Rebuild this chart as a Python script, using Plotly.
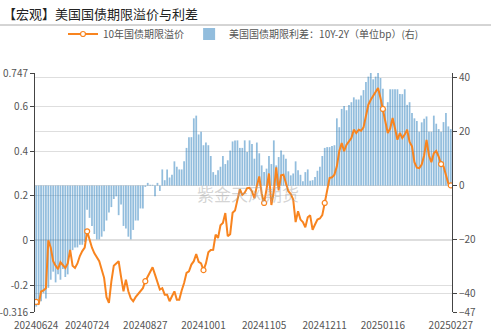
import pandas as pd
import plotly.graph_objects as go

# ---------------- data ----------------
holidays = ["2024-07-04", "2024-09-02", "2024-11-28", "2024-12-25",
            "2025-01-01", "2025-01-20", "2025-02-17"]
dates = [d.strftime("%Y%m%d") for d in pd.bdate_range("2024-06-24", "2025-02-27")
         if d.strftime("%Y-%m-%d") not in holidays]

tick_labels = ["20240624", "20240724", "20240827", "20241001",
               "20241105", "20241211", "20250116", "20250227"]

# 10-year term premium (left axis)
term_premium = [
    -0.271, -0.283, -0.225, -0.22, -0.21, 0.003, -0.03, -0.09, -0.11, -0.125,
    -0.095, -0.11, -0.12, -0.1, -0.04, -0.11, -0.12, -0.1, -0.067, -0.045,
    -0.03, 0.043, 0.0, -0.03, -0.055, -0.075, -0.09, -0.127, -0.164, -0.25,
    -0.275, -0.18, -0.11, -0.1, -0.09, -0.16, -0.224, -0.172, -0.224, -0.255,
    -0.268, -0.25, -0.235, -0.224, -0.21, -0.179, -0.16, -0.14, -0.117, -0.15,
    -0.185, -0.216, -0.21, -0.239, -0.239, -0.268, -0.246, -0.224, -0.261, -0.261,
    -0.22, -0.187, -0.142, -0.135, -0.105, -0.09, -0.058, -0.093, -0.1, -0.13,
    -0.1, -0.05, -0.04, -0.039, 0.028, 0.013, 0.07, 0.08, 0.124, 0.021,
    0.03, 0.125, 0.135, 0.19, 0.23, 0.205, 0.215, 0.235, 0.236, 0.22,
    0.19, 0.245, 0.287, 0.21, 0.169, 0.23, 0.3, 0.16, 0.22, 0.327,
    0.225, 0.292, 0.295, 0.258, 0.221, 0.209, 0.184, 0.084, 0.132, 0.095,
    0.084, 0.061, 0.105, 0.114, 0.05, 0.073, 0.095, 0.1, 0.115, 0.169,
    0.221, 0.28, 0.283, 0.295, 0.332, 0.399, 0.436, 0.399, 0.428, 0.443,
    0.458, 0.495, 0.48, 0.495, 0.49, 0.505, 0.55, 0.606, 0.628, 0.645,
    0.66, 0.68, 0.636, 0.587, 0.53, 0.48, 0.5, 0.547, 0.5, 0.45,
    0.48, 0.458, 0.473, 0.495, 0.44, 0.421, 0.35, 0.326, 0.324, 0.34,
    0.38, 0.45, 0.38, 0.35, 0.39, 0.4, 0.375, 0.342, 0.332, 0.29,
    0.255, 0.247,
]

# 10Y-2Y spread in bp (right axis)
spread_bp = [
    -45, -44, -43, -40, -42, -38, -35, -32, -36, -33,
    -35, -31, -34, -33, -25, -24, -23, -23, -22, -22,
    -21, -9, -12, -15, -18, -20, -20, -19, -17, -13,
    -10, -8, -5, -4, -11, -7, -15, -16, -19, -20,
    -16.5, -13, -13, -8.5, -8.5, -0.5, 1, 0.3, 0.3, -4,
    1, -2, 6, 2, 6, 3, 4, 9, 7, 6,
    6, 9, 14, 18, 18, 25, 26, 19, 20, 15,
    16, 15, 11, 5, 4, 5.7, 7, 11, 8, 9.4,
    13, 16.4, 16.8, 16.8, 14, 14, 16.8, 12.5, 16.8, 15.5,
    10, 16, 12, 7.5, 5, 6.3, 11, 8, 16.8, 7.5,
    10.6, 13, 11.5, 10, 5.3, 3.8, 4.5, 9, 5.7, 4,
    1.6, 5, 6, 1.8, 2, 3.2, 5.5, 7, 11, 14,
    14.3, 14.3, 14.7, 15, 25, 21.7, 28.5, 29.6, 28, 30,
    31, 32.8, 32, 32, 33.5, 35.5, 38.5, 40.5, 42, 39.5,
    40.5, 42, 40, 36, 28.5, 31, 35.8, 35.8, 35.8, 35.8,
    34, 34, 35.8, 30, 31, 27, 25, 24, 20, 23.5,
    24.8, 25.7, 20, 20, 26, 23, 21, 20, 23.6, 27,
    22, 21,
]

marker_idx = [0, 21, 45, 69, 94, 119, 143, 167, 171]
axis_tick_idx = [21, 45, 69, 94, 119, 143, 167]

left_ticks = [-0.316, -0.2, 0, 0.2, 0.4, 0.6, 0.747]
left_ticktext = ["-0.316", "-0.2", "0", "0.2", "0.4", "0.6", "0.747"]
right_ticks = [-47, -40, -20, 0, 20, 40]

# ---------------- figure ----------------
FONT = "Noto Sans CJK SC"
ORANGE = "#F8841F"
W, H = 491, 333
ML, MR, MT, MB = 35, 39, 73, 21
PW, PH = W - ML - MR, H - MT - MB
LMIN, LMAX = -0.316, 0.747
RMIN, RMAX = -47, 41.85

fig = go.Figure()

fig.add_trace(go.Bar(
    x=dates, y=spread_bp, name="美国国债期限利差：10Y-2Y（单位bp）(右)",
    marker=dict(color="rgba(38,124,187,0.5)", line=dict(width=0)),
    xaxis="x", yaxis="y", legendrank=2,
))

fig.add_trace(go.Scatter(
    x=dates, y=term_premium, name="10年国债期限溢价", mode="lines+markers",
    line=dict(color=ORANGE, width=2),
    marker=dict(size=5, color="white", symbol="circle",
                line=dict(color=ORANGE, width=1.2)),
    selectedpoints=marker_idx,
    unselected=dict(marker=dict(opacity=0)),
    xaxis="x", yaxis="y2", legendrank=1,
))

zero_pos = (0 - LMIN) / (LMAX - LMIN)

fig.update_layout(
    width=W, height=H,
    margin=dict(l=ML, r=MR, t=MT, b=MB, pad=0),
    paper_bgcolor="white", plot_bgcolor="white",
    font=dict(family=FONT, size=10, color="#555"),
    title=dict(text="【宏观】美国国债期限溢价与利差", x=0.006, xref="container",
               xanchor="left", y=1 - 14 / H, yref="container", yanchor="middle",
               font=dict(family=FONT, size=13, color="#222")),
    showlegend=True,
    legend=dict(orientation="h", x=0.5, xanchor="center", xref="paper",
                y=1 - 34 / H, yref="container", yanchor="middle",
                font=dict(family=FONT, size=10, color="#555"),
                itemwidth=30, bgcolor="rgba(0,0,0,0)"),
    bargap=0.28,
    xaxis=dict(type="category", range=[-0.5, len(dates) - 0.5],
               tickmode="array", tickvals=tick_labels, ticktext=tick_labels,
               showline=False, ticks="outside", ticklen=4,
               tickcolor="rgba(0,0,0,0)", showgrid=False, zeroline=False,
               tickfont=dict(size=10, color="#555"), automargin=False),
    xaxis2=dict(type="linear", overlaying="x", anchor="free", position=zero_pos,
                range=[-0.5, len(dates) - 0.5], tickmode="array",
                tickvals=axis_tick_idx, showticklabels=False,
                showline=True, linecolor="#666", linewidth=1,
                ticks="outside", ticklen=4, tickcolor="#666",
                showgrid=False, zeroline=False),
    yaxis=dict(range=[RMIN, RMAX], side="right", tickmode="array",
               tickvals=right_ticks, showline=True, linecolor="#444",
               ticks="outside", ticklen=4, tickcolor="#444",
               showgrid=True, gridcolor="#dedede", zeroline=False,
               tickfont=dict(size=10, color="#555"), automargin=False),
    yaxis2=dict(range=[LMIN, LMAX], side="left", overlaying="y", anchor="x",
                tickmode="array", tickvals=left_ticks, ticktext=left_ticktext,
                showline=True, linecolor="#444", ticks="outside", ticklen=4,
                tickcolor="#444", showgrid=True, gridcolor="#dedede",
                zeroline=False, tickfont=dict(size=10, color="#555"),
                automargin=False),
    shapes=[dict(type="line", xref="paper", yref="paper",
                 x0=-ML / PW, x1=(W - ML) / PW,
                 y0=(H - MB - 25) / PH, y1=(H - MB - 25) / PH,
                 line=dict(color="#aaaaaa", width=1))],
    annotations=[dict(text="紫金天风期货", xref="paper", yref="paper",
                      x=(248 - ML) / PW, y=(H - MB - 193) / PH,
                      showarrow=False,
                      font=dict(family=FONT, size=17, color="rgba(160,160,160,0.45)"))],
)

fig.write_html("out.html")
